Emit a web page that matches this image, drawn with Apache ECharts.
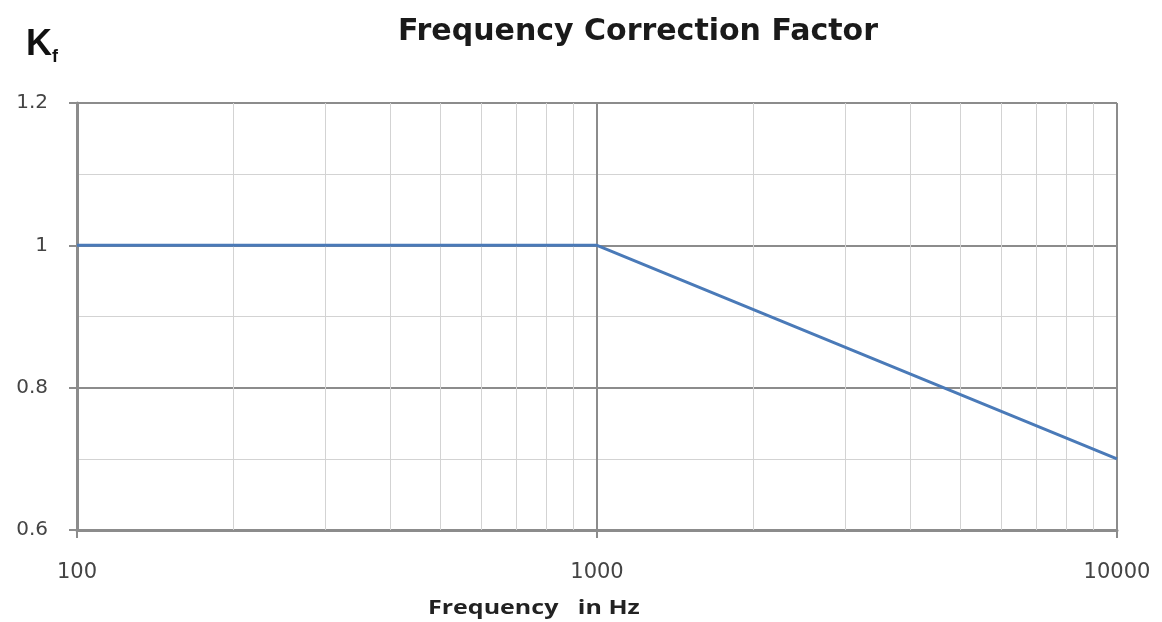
<!DOCTYPE html>
<html>
<head>
<meta charset="utf-8">
<script src="https://cdn.jsdelivr.net/npm/echarts@6/dist/echarts.min.js"></script>
<style>
  html, body { margin: 0; padding: 0; background: #fff; }
  #chart { width: 1162px; height: 622px; }
</style>
</head>
<body>
<div id="chart"></div>
<script>
// curve points (frequency in Hz, Kf)
var freqs = [100, 1000, 10000];
var kf = [1, 1, 0.7];
// minor gridlines on the log axis
var minorFreqs = [200, 300, 400, 500, 600, 700, 800, 900,
                  2000, 3000, 4000, 5000, 6000, 7000, 8000, 9000];

var chart = echarts.init(document.getElementById('chart'));

var option = {
  animation: false,
  grid: { left: 77, right: 45, top: 103, bottom: 92 },
  graphic: [
    {
      type: 'text', left: 398, top: 17,
      style: { text: 'Frequency Correction Factor', fill: '#1a1a1a',
               font: 'bold 30px "DejaVu Sans", sans-serif' }
    },
    {
      type: 'text', left: 26, top: 27,
      style: {
        text: '{k|K}{f|f}',
        rich: {
          k: { font: 'bold 36px "Liberation Sans", Arial, sans-serif', fill: '#111' },
          f: { font: 'bold 18px "Liberation Sans", Arial, sans-serif', fill: '#111', verticalAlign: 'bottom', padding: [24, 0, 0, 0] }
        }
      }
    },
    {
      type: 'text', x: 428, y: 598, scaleX: 1.25,
      style: { text: 'Frequency   in Hz', fill: '#222',
               font: 'bold 20px "Open Sans", sans-serif' }
    }
  ],
  xAxis: {
    type: 'log',
    logBase: 10,
    min: 100,
    max: 10000,
    axisLine: { lineStyle: { color: '#8c8c8c', width: 3 } },
    axisTick: { show: true, length: 8, lineStyle: { color: '#8c8c8c', width: 2 } },
    axisLabel: { color: '#444', fontSize: 21, margin: 32, fontFamily: 'DejaVu Sans',
                 formatter: function (v) { return String(Math.round(v)); } },
    splitLine: { show: true, lineStyle: { color: '#8c8c8c', width: 2 } }
  },
  yAxis: {
    type: 'value',
    min: 0.6,
    max: 1.2,
    interval: 0.2,
    axisLine: { show: true, lineStyle: { color: '#8c8c8c', width: 3 } },
    axisTick: { show: true, length: 8, lineStyle: { color: '#8c8c8c', width: 2 } },
    axisLabel: { color: '#444', fontSize: 20, margin: 29, fontFamily: 'DejaVu Sans',
                 formatter: function (v) { return String(Math.round(v * 10) / 10); } },
    splitLine: { show: true, lineStyle: { color: '#8c8c8c', width: 2 } },
    minorTick: { show: false, splitNumber: 2 },
    minorSplitLine: { show: true, lineStyle: { color: '#d3d3d3', width: 1 } }
  },
  series: [
    {
      // light minor gridlines, drawn from data values on the log axis
      type: 'line',
      data: [],
      silent: true,
      markLine: {
        silent: true,
        symbol: 'none',
        label: { show: false },
        lineStyle: { color: '#d3d3d3', width: 1, type: 'solid' },
        data: minorFreqs.map(function (f) { return { xAxis: f }; })
      }
    },
    {
      name: 'Kf',
      type: 'line',
      data: freqs.map(function (f, i) { return [f, kf[i]]; }),
      showSymbol: false,
      lineStyle: { color: '#4a7ab8', width: 3 },
      z: 5
    }
  ]
};

chart.setOption(option);
</script>
</body>
</html>
